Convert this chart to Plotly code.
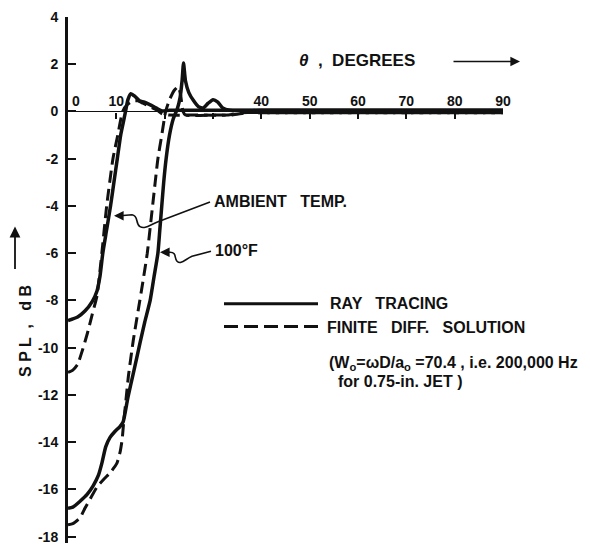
import plotly.graph_objects as go

# ---------------- data ----------------
theta_amb_ray = [0, 2, 3.5, 5, 6, 6.6, 7.2, 8.0, 8.8, 9.5, 10.2, 10.9, 11.4, 11.9, 12.4, 13.0, 13.8,
                 14.8, 15.8, 16.8, 17.8, 18.6, 19.5, 21, 30, 40, 60, 90]
spl_amb_ray = [-8.85, -8.7, -8.45, -8.05, -7.6, -7.0, -6.0, -5.0, -4.0, -3.0, -2.0, -1.0, -0.5, 0.0,
               0.5, 0.75, 0.65, 0.45, 0.4, 0.3, 0.2, 0.1, 0.02, 0.05, 0.05, 0.05, 0.05, 0.05]

theta_amb_fd = [0, 1, 2, 3, 4, 5, 6, 7.0, 8.0, 9.3, 10.3, 11.3, 12.3, 13.5, 14.5, 15.5, 17, 18.5,
                19.5, 21, 27, 33, 36, 40, 60, 90]
spl_amb_fd = [-11.05, -10.95, -10.7, -10.1, -9.4, -8.6, -7.8, -6.0, -4.0, -2.0, -1.0, 0.0, 0.3, 0.45,
              0.45, 0.35, 0.2, 0.05, -0.1, -0.15, -0.15, -0.15, -0.05, -0.05, -0.05, -0.05]

theta_hot_ray = [0, 1, 2.5, 4, 5.2, 6.3, 7.0, 7.8, 8.7, 9.7, 10.7, 11.4, 12.4, 13.5, 14.9, 15.9, 17.0,
                 17.8, 18.6, 19.0, 19.4, 19.8, 20.3, 21.0, 21.8, 22.6, 23.2, 23.6, 23.9, 24.3, 25, 26,
                 27, 28, 29, 30, 31, 32, 33.5, 40, 60, 90]
spl_hot_ray = [-16.8, -16.75, -16.5, -16.2, -15.85, -15.4, -14.9, -14.2, -13.8, -13.55, -13.35, -13.15,
               -12.1, -11.1, -9.8, -8.9, -8.0, -7.0, -6.0, -5.0, -4.0, -3.0, -2.0, -1.0, -0.3, 0.1,
               0.6, 1.3, 2.05, 1.3, 0.8, 0.45, 0.2, 0.15, 0.35, 0.5, 0.4, 0.15, 0.05, 0.05, 0.05, 0.05]

theta_hot_fd = [0, 1, 2.5, 3.5, 4.6, 6.0, 7.5, 8.7, 10.1, 10.8, 11.2, 11.5, 12.0, 12.5, 13.5, 14.5,
                15.5, 16.4, 17.5, 18.6, 19.4, 20.2, 21.0, 22.0, 22.8, 23.3, 23.8, 24.3, 30, 34, 37,
                40, 60, 90]
spl_hot_fd = [-17.5, -17.45, -17.2, -16.8, -16.4, -15.9, -15.55, -15.3, -14.9, -14.4, -13.9, -13.2,
              -12.2, -11.2, -9.7, -8.45, -7.2, -6.0, -4.0, -2.0, -1.0, 0.0, 0.5, 0.9, 1.05, 0.7, 0.0,
              -0.15, -0.15, -0.15, -0.05, -0.05, -0.05, -0.05]

x_tick_vals = [10, 20, 30, 40, 50, 60, 70, 80, 90]
x_tick_text = ["10", "", "", "40", "50", "60", "70", "80", "90"]
y_tick_vals = [4, 2, 0, -2, -4, -6, -8, -10, -12, -14, -16, -18]
y_tick_text = ["4", "2", "0", "-2", "-4", "-6", "-8", "-10", "-12", "-14", "-16", "-18"]

# ---------------- layout geometry ----------------
W, H = 590, 553
ML, MR, MT, MB = 68, 87, 12, 9
X0, X1 = 0, 90
Y0, Y1 = -18.27, 4.0
PW, PH = W - ML - MR, H - MT - MB


def px2x(px):
    return (px - ML) / PW * (X1 - X0) + X0


def py2y(py):
    return Y1 - (py - MT) / PH * (Y1 - Y0)


FONT = "Liberation Sans, Arial, sans-serif"
BLACK = "#111111"


def fnt(size):
    return dict(family=FONT, size=size, color=BLACK, weight="bold")


fig = go.Figure()
solid = dict(color=BLACK, width=3.5)
dashed = dict(color=BLACK, width=3, dash="12px,6px")
for xs, ys, ln in [(theta_amb_fd, spl_amb_fd, dashed), (theta_hot_fd, spl_hot_fd, dashed),
                   (theta_amb_ray, spl_amb_ray, solid), (theta_hot_ray, spl_hot_ray, solid)]:
    fig.add_trace(go.Scatter(x=xs, y=ys, mode="lines", line=dict(shape="spline", smoothing=0.5, **ln),
                             showlegend=False, hoverinfo="skip", cliponaxis=False))

shapes = []
# legend lines
shapes.append(dict(type="line", x0=px2x(224), x1=px2x(318), y0=py2y(302), y1=py2y(302),
                   line=dict(color=BLACK, width=3)))
shapes.append(dict(type="line", x0=px2x(224), x1=px2x(318), y0=py2y(325), y1=py2y(325),
                   line=dict(color=BLACK, width=3, dash="14px,6px")))


def path(cmds):
    out = []
    for c in cmds:
        if isinstance(c, str):
            out.append(c)
        else:
            out.append(f"{px2x(c[0]):.4f},{py2y(c[1]):.4f}")
    return " ".join(out)


amb_leader = path(["M", (210, 199), "L", (158, 219), "C", (150, 222), (145, 227), (140, 224),
                   "C", (135, 221), (139, 213), (132, 212), "L", (120, 213)])
hot_leader = path(["M", (211, 249), "L", (192, 254), "C", (185, 257), (181, 263), (177, 259),
                   "C", (174, 256), (177, 250), (170, 250), "L", (165, 250)])
for p in (amb_leader, hot_leader):
    shapes.append(dict(type="path", path=p, line=dict(color=BLACK, width=1.6)))

annotations = []


def txt(s, px, py, size=15, anchor="left"):
    annotations.append(dict(text=s, x=px2x(px), y=py2y(py), xref="x", yref="y", showarrow=False,
                            xanchor=anchor, yanchor="middle", font=fnt(size)))


txt("<i>θ</i>  ,  DEGREES", 297, 56, 17)
txt("AMBIENT   TEMP.", 212, 199, 16)
txt("100°F", 213, 248, 16)
txt("RAY   TRACING", 328, 302, 16)
txt("FINITE   DIFF.   SOLUTION", 325, 326, 16)
txt("(W<sub>o</sub>=ωD/a<sub>o</sub> =70.4 , i.e. 200,000 Hz", 327, 362, 16)
txt("for 0.75-in. JET )", 336, 381, 16)
txt("0", 76, 97, 14, "center")


# arrows
def arrow(tip, tail, width=1.6):
    annotations.append(dict(text="", x=px2x(tip[0]), y=py2y(tip[1]), ax=px2x(tail[0]), ay=py2y(tail[1]),
                            xref="x", yref="y", axref="x", ayref="y", showarrow=True, arrowhead=2,
                            arrowsize=1.2, arrowwidth=width, arrowcolor=BLACK))


arrow((520, 57), (452, 57))
arrow((114, 213), (124, 213))
arrow((160, 250), (168, 250))

# y-axis title and arrow (outside plot)
annotations.append(dict(text="S P L  ,   d B", x=(15 - ML) / PW, y=(H - MB - 330) / PH, xref="paper",
                        yref="paper", textangle=-90, showarrow=False, font=fnt(16)))
annotations.append(dict(text="", x=(15 - ML) / PW, y=(H - MB - 224) / PH, xref="paper", yref="paper",
                        ax=0, ay=44, showarrow=True, arrowhead=2, arrowsize=1.2, arrowwidth=1.8,
                        arrowcolor=BLACK))

fig.update_layout(
    width=W, height=H, margin=dict(l=ML, r=MR, t=MT, b=MB),
    paper_bgcolor="white", plot_bgcolor="white",
    shapes=shapes, annotations=annotations,
    font=fnt(14),
    xaxis=dict(range=[X0, X1], anchor="free", position=(0 - Y0) / (Y1 - Y0), side="top",
               tickmode="array", tickvals=x_tick_vals, ticktext=x_tick_text,
               ticks="inside", ticklen=6, tickwidth=2, tickcolor=BLACK,
               showline=True, linewidth=1.2, linecolor=BLACK, showgrid=False, zeroline=False,
               tickfont=fnt(14)),
    yaxis=dict(range=[Y0, Y1], tickmode="array", tickvals=y_tick_vals, ticktext=y_tick_text,
               ticks="inside", ticklen=8, tickwidth=2, tickcolor=BLACK,
               showline=True, linewidth=3, linecolor=BLACK, showgrid=False, zeroline=False,
               ticklabelstandoff=4, tickfont=fnt(14)),
)

fig.write_html("out.html")
